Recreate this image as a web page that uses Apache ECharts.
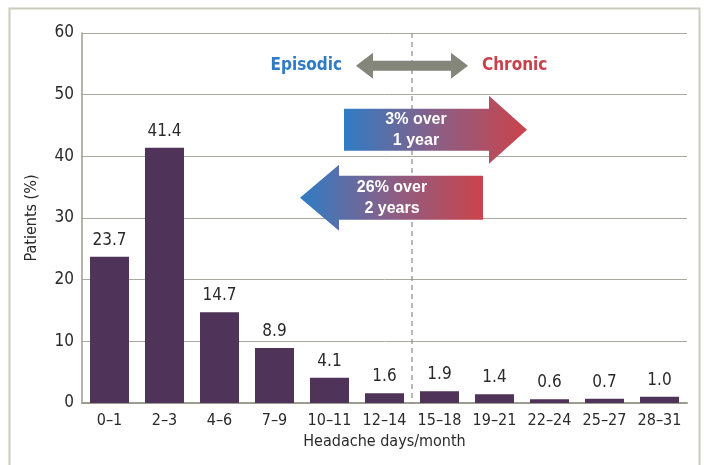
<!DOCTYPE html>
<html>
<head>
<meta charset="utf-8">
<script src="https://cdn.jsdelivr.net/npm/echarts@6/dist/echarts.min.js"></script>
<style>
  html, body { margin: 0; padding: 0; background: #fff; }
  #main { width: 704px; height: 465px; }
</style>
</head>
<body>
<div id="main"></div>
<script>
const categories = ['0–1', '2–3', '4–6', '7–9', '10–11', '12–14', '15–18', '19–21', '22–24', '25–27', '28–31'];
const patients = [23.7, 41.4, 14.7, 8.9, 4.1, 1.6, 1.9, 1.4, 0.6, 0.7, 1.0];
const yTicks = [0, 10, 20, 30, 40, 50, 60];

const narrow = '"Liberation Sans Narrow", "DejaVu Sans Condensed", Arial, sans-serif';
const textColor = '#2a2a2a';

const chart = echarts.init(document.getElementById('main'));

chart.setOption({
    animation: false,
    grid: { left: 82, right: 17, top: 33, bottom: 62 },
    xAxis: {
        type: 'category',
        data: categories,
        name: 'Headache days/month',
        nameLocation: 'middle',
        nameGap: 30,
        nameTextStyle: { fontFamily: narrow, fontSize: 16, color: textColor },
        axisLine: { lineStyle: { color: '#9c9d92', width: 2 } },
        axisTick: { show: false },
        axisLabel: { fontFamily: narrow, fontSize: 16, color: textColor, margin: 10, interval: 0 }
    },
    yAxis: {
        type: 'value',
        min: yTicks[0],
        max: yTicks[yTicks.length - 1],
        interval: 10,
        name: 'Patients (%)',
        nameLocation: 'middle',
        nameGap: 42,
        nameTextStyle: { fontFamily: narrow, fontSize: 16, color: textColor },
        axisLine: { show: true, lineStyle: { color: '#9c9d92', width: 1.5 } },
        axisTick: { show: false },
        axisLabel: { fontFamily: narrow, fontSize: 17, color: textColor, margin: 8 },
        splitLine: { lineStyle: { color: '#a9aa9f', width: 1 } }
    },
    series: [{
        type: 'bar',
        data: patients,
        barWidth: 39,
        itemStyle: { color: '#4f3358' },
        label: {
            show: true,
            position: 'top',
            distance: 8,
            fontFamily: narrow,
            fontSize: 17,
            color: textColor,
            formatter: p => p.value.toFixed(1)
        }
    }]
});

// annotations placed from data coordinates
const px = (xi, y) => chart.convertToPixel({ xAxisIndex: 0, yAxisIndex: 0 }, [xi, y]);
const divX = (px(5, 0)[0] + px(6, 0)[0]) / 2;
const yTop = px(0, 60)[1], yZero = px(0, 0)[1];

const grad = () => new echarts.graphic.LinearGradient(0, 0, 1, 0, [
    { offset: 0, color: '#2f7cc5' },
    { offset: 0.5, color: '#8a5f86' },
    { offset: 1, color: '#cb434b' }
]);

const yA = px(0, 44.3)[1];   // centre of the "3% over" arrow
const yB = px(0, 33.3)[1];   // centre of the "26% over" arrow
const yEp = px(0, 54.7)[1];  // Episodic / Chronic row

chart.setOption({
    graphic: [
        { type: 'rect', shape: { x: 9.5, y: 8.5, width: 690, height: 470 },
          style: { fill: 'none', stroke: '#c9cbbd', lineWidth: 2 }, silent: true },
        { type: 'line', shape: { x1: divX, y1: yTop, x2: divX, y2: yZero },
          style: { stroke: '#8a8a8a', lineWidth: 1.2, lineDash: [5, 4] }, z: 5 },
        { type: 'polygon', z: 6,
          shape: { points: [
              [divX - 56, yEp], [divX - 39, yEp - 13], [divX - 39, yEp - 5],
              [divX + 39, yEp - 5], [divX + 39, yEp - 13], [divX + 56, yEp],
              [divX + 39, yEp + 13], [divX + 39, yEp + 5], [divX - 39, yEp + 5],
              [divX - 39, yEp + 13]] },
          style: { fill: '#84867a' } },
        { type: 'text', z: 6, style: { text: 'Episodic', x: divX - 70, y: yEp, align: 'right', verticalAlign: 'middle',
            font: 'bold 17px "Liberation Sans Narrow", "DejaVu Sans Condensed", sans-serif', fill: '#2f7cc5' } },
        { type: 'text', z: 6, style: { text: 'Chronic', x: divX + 70, y: yEp, align: 'left', verticalAlign: 'middle',
            font: 'bold 17px "Liberation Sans Narrow", "DejaVu Sans Condensed", sans-serif', fill: '#c8424c' } },
        { type: 'polygon', z: 6,
          shape: { points: [
              [divX - 68, yA - 21], [divX + 77, yA - 21], [divX + 77, yA - 34],
              [divX + 115, yA], [divX + 77, yA + 34], [divX + 77, yA + 21],
              [divX - 68, yA + 21]] },
          style: { fill: grad() } },
        { type: 'text', z: 7, style: { text: '3% over\n1 year', x: divX + 4, y: yA, align: 'center', verticalAlign: 'middle',
            lineHeight: 21, font: 'bold 16px "Liberation Sans", Arial, sans-serif', fill: '#ffffff' } },
        { type: 'polygon', z: 6,
          shape: { points: [
              [divX + 71, yB - 22], [divX - 73, yB - 22], [divX - 73, yB - 33],
              [divX - 112, yB], [divX - 73, yB + 33], [divX - 73, yB + 22],
              [divX + 71, yB + 22]] },
          style: { fill: grad() } },
        { type: 'text', z: 7, style: { text: '26% over\n2 years', x: divX - 20, y: yB, align: 'center', verticalAlign: 'middle',
            lineHeight: 21, font: 'bold 16px "Liberation Sans", Arial, sans-serif', fill: '#ffffff' } }
    ]
});
</script>
</body>
</html>
